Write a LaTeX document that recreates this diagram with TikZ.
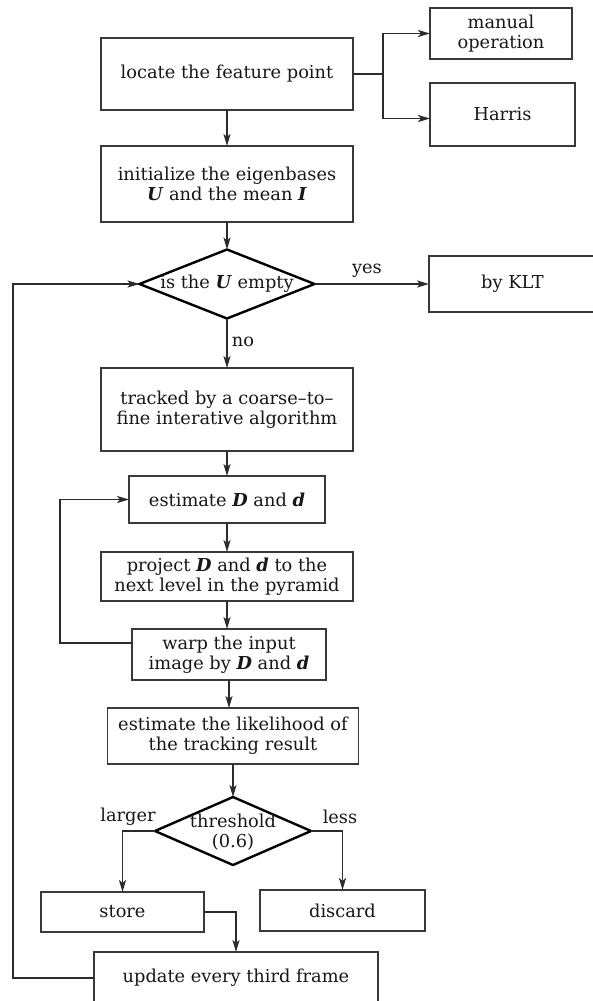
\documentclass[tikz,border=0pt]{standalone}
\usepackage{fontspec}
\setmainfont{DejaVu Serif}
\usetikzlibrary{arrows.meta,shapes.geometric,calc}
\definecolor{boxc}{HTML}{3C3838}
\definecolor{linec}{HTML}{2E2A2A}
\definecolor{txt}{HTML}{1A1616}
\newcommand{\flowfont}{\fontsize{17.8}{20}\selectfont}
\newcommand{\vb}[1]{\textbf{\textit{#1}}}
\begin{document}
\begin{tikzpicture}[x=1pt,y=-1pt,
  box/.style={draw=boxc, line width=1.8pt, rectangle, inner sep=0pt, outer sep=0pt, align=center, text=txt, font=\flowfont},
  dia/.style={draw=black, line width=2.4pt, diamond, inner sep=0pt, outer sep=0pt},
  txtnode/.style={inner sep=0pt, align=center, text=txt, font=\flowfont},
  conn/.style={draw=linec, line width=1.9pt},
  arr/.style={conn, -{Stealth[length=12pt,width=7pt,inset=3pt]}},
]
\useasboundingbox (0,0) rectangle (592,1001);
\fill[white] (0,0) rectangle (592,1001);

\node[box, minimum width=252, minimum height=72] (loc) at (227,74) {locate the feature point};
\node[box, minimum width=142, minimum height=51] (man) at (501,33.5) {manual\\operation};
\node[box, minimum width=145, minimum height=63] (har) at (502.5,114.5) {Harris};
\node[box, minimum width=252, minimum height=76] (init) at (227,184) {initialize the eigenbases\\\vb{U} and the mean \vb{I}};
\node[dia, minimum width=175, minimum height=69] (d1) at (227,284) {};
\node[txtnode] (d1t) at (227,284) {is the \vb{U} empty};
\node[box, minimum width=167, minimum height=56] (klt) at (512.5,284) {by KLT};
\node[box, minimum width=252, minimum height=83] (trk) at (227,409.5) {tracked by a coarse--to--\\fine interative algorithm};
\node[box, minimum width=196, minimum height=47] (est) at (227,499.5) {estimate \vb{D} and \vb{d}};
\node[box, minimum width=252, minimum height=49] (proj) at (227,576.5) {project \vb{D} and \vb{d} to the\\next level in the pyramid};
\node[box, minimum width=194, minimum height=51] (warp) at (229,654.5) {warp the input\\image by \vb{D} and \vb{d}};
\node[box, minimum width=251, minimum height=56] (like) at (233,736) {estimate the likelihood of\\the tracking result};
\node[dia, minimum width=156, minimum height=68] (d2) at (233,831) {};
\node[txtnode] (d2t) at (233,832) {threshold\\(0.6)};
\node[box, minimum width=163, minimum height=40] (store) at (122.5,912) {store};
\node[box, minimum width=165, minimum height=41] (disc) at (342.5,910.5) {discard};
\node[box, minimum width=284, minimum height=52] (upd) at (236,978) {update every third frame};

\node[txtnode] (yes) at (367,271) {yes};
\node[txtnode] (no) at (243,342) {no};
\node[txtnode] (larger) at (128,817) {larger};
\node[txtnode] (less) at (340,817) {less};

\coordinate (br) at (383,74);
\draw[conn] (loc.east) -- (br);
\draw[arr] (br) |- (man.west);
\draw[arr] (br) |- ($(har.west)+(0,4)$);
\draw[arr] (loc.south) -- (init.north);
\draw[arr] (init.south) -- (d1.north);
\draw[arr] (d1.east) -- (klt.west);
\draw[arr] (d1.south) -- (trk.north);
\draw[arr] (trk.south) -- (est.north);
\draw[arr] (est.south) -- (proj.north);
\draw[arr] (proj.south) -- (proj.south |- warp.north);
\draw[arr] (warp.south) -- (warp.south |- like.north);
\draw[arr] (like.south) -- (d2.north);
\coordinate (wl) at (60,643);
\draw[arr] (warp.west |- wl) -- (wl) |- (est.west);
\draw[arr] (d2.west) -| (store.north);
\draw[arr] (d2.east) -| (disc.north);
\draw[arr] (store.east) -| (upd.north);
\coordinate (lp) at (13,978);
\draw[arr] (upd.west) -- (lp) |- (d1.west);
\end{tikzpicture}
\end{document}
